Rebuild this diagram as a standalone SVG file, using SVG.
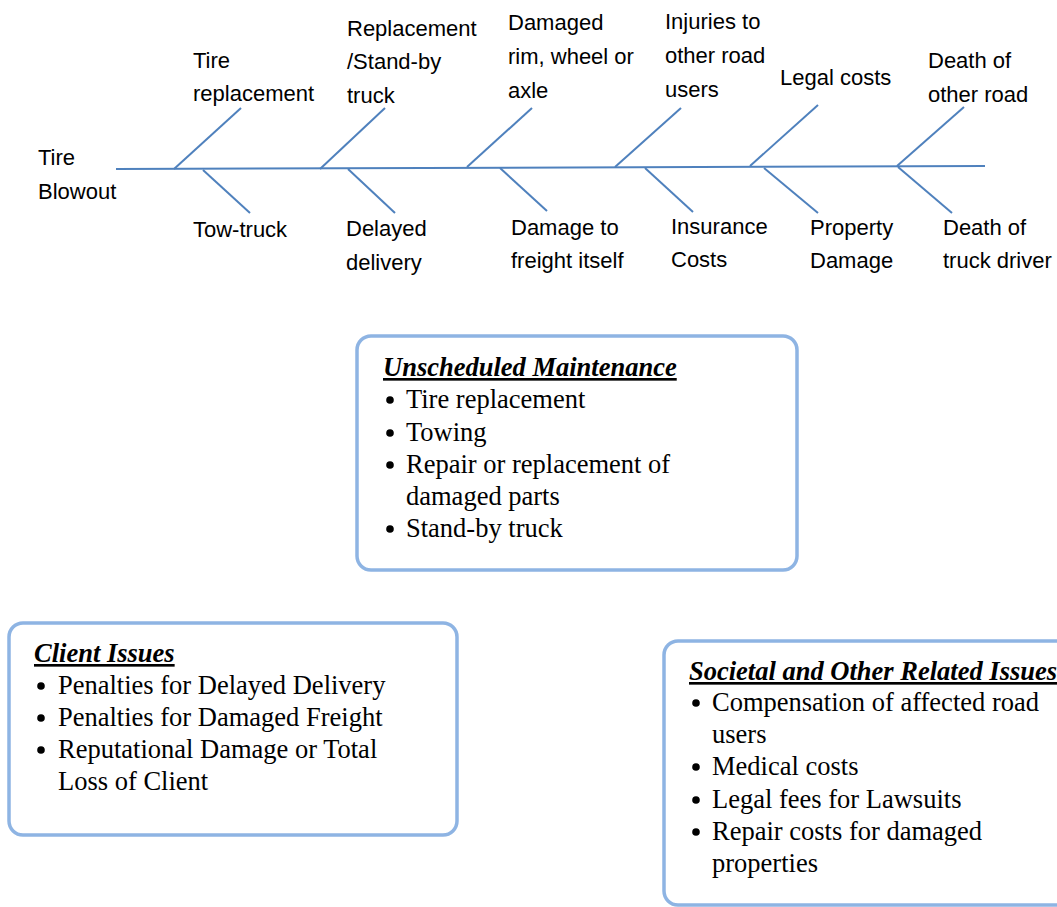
<svg xmlns="http://www.w3.org/2000/svg" width="1057" height="907" viewBox="0 0 1057 907">
<style>
.bone{stroke:#4F81BD;stroke-width:2;fill:none;stroke-linecap:butt}
.lbl{font-family:"Liberation Sans",Arial,sans-serif;font-size:22px;fill:#000}
.box{fill:#fff;stroke:#8EB4E3;stroke-width:3.5}
.bt{font-family:"Liberation Serif","Times New Roman",serif;font-size:26.5px;fill:#000}
.ttl{font-weight:bold;font-style:italic;text-decoration:underline}
.dot{fill:#000}
</style>
<rect width="1057" height="907" fill="#fff"/>
<g id="connectors">
<line class="bone" x1="116" y1="169" x2="985" y2="166"/>
<line class="bone" x1="174" y1="169" x2="241" y2="108"/>
<line class="bone" x1="320" y1="169" x2="385" y2="108"/>
<line class="bone" x1="467" y1="167" x2="532" y2="108"/>
<line class="bone" x1="615" y1="167" x2="681" y2="108"/>
<line class="bone" x1="750" y1="166" x2="818" y2="105"/>
<line class="bone" x1="897" y1="166" x2="964" y2="107"/>
<line class="bone" x1="203" y1="170" x2="250" y2="213"/>
<line class="bone" x1="348" y1="169" x2="395" y2="213"/>
<line class="bone" x1="500" y1="168" x2="547" y2="211"/>
<line class="bone" x1="645" y1="168" x2="693" y2="212"/>
<line class="bone" x1="764" y1="168" x2="818" y2="213"/>
<line class="bone" x1="898" y1="167" x2="952" y2="213"/>
</g>
<g id="head"><text class="lbl" x="38" y="165">Tire</text><text class="lbl" x="38" y="199">Blowout</text></g>
<g id="tire-replacement"><text class="lbl" x="193" y="68">Tire</text><text class="lbl" x="193" y="101">replacement</text></g>
<g id="standby-truck"><text class="lbl" x="347" y="36">Replacement</text><text class="lbl" x="347" y="69">/Stand-by</text><text class="lbl" x="347" y="103">truck</text></g>
<g id="damaged-rim"><text class="lbl" x="508" y="30">Damaged</text><text class="lbl" x="508" y="64">rim, wheel or</text><text class="lbl" x="508" y="98">axle</text></g>
<g id="injuries"><text class="lbl" x="665" y="29">Injuries to</text><text class="lbl" x="665" y="63">other road</text><text class="lbl" x="665" y="97">users</text></g>
<g id="legal-costs"><text class="lbl" x="780" y="85">Legal costs</text></g>
<g id="death-other"><text class="lbl" x="928" y="68">Death of</text><text class="lbl" x="928" y="102">other road</text></g>
<g id="tow-truck"><text class="lbl" x="193" y="237">Tow-truck</text></g>
<g id="delayed-delivery"><text class="lbl" x="346" y="236">Delayed</text><text class="lbl" x="346" y="270">delivery</text></g>
<g id="damage-freight"><text class="lbl" x="511" y="235">Damage to</text><text class="lbl" x="511" y="268">freight itself</text></g>
<g id="insurance"><text class="lbl" x="671" y="234">Insurance</text><text class="lbl" x="671" y="267">Costs</text></g>
<g id="property"><text class="lbl" x="810" y="235">Property</text><text class="lbl" x="810" y="268">Damage</text></g>
<g id="death-driver"><text class="lbl" x="943" y="235">Death of</text><text class="lbl" x="943" y="268">truck driver</text></g>

<g id="unscheduled-maintenance">
<rect class="box" x="357" y="336" width="440" height="234" rx="14"/>
<text class="bt ttl" x="383" y="376">Unscheduled Maintenance</text>
<circle class="dot" cx="390" cy="400" r="3.8"/><text class="bt" x="406" y="408">Tire replacement</text>
<circle class="dot" cx="390" cy="433" r="3.8"/><text class="bt" x="406" y="441">Towing</text>
<circle class="dot" cx="390" cy="465" r="3.8"/><text class="bt" x="406" y="473">Repair or replacement of</text>
<text class="bt" x="406" y="505">damaged parts</text>
<circle class="dot" cx="390" cy="529" r="3.8"/><text class="bt" x="406" y="537">Stand-by truck</text>
</g>

<g id="client-issues">
<rect class="box" x="9" y="623" width="448" height="212" rx="14"/>
<text class="bt ttl" x="34" y="662">Client Issues</text>
<circle class="dot" cx="41" cy="686" r="3.8"/><text class="bt" x="58" y="694">Penalties for Delayed Delivery</text>
<circle class="dot" cx="41" cy="718" r="3.8"/><text class="bt" x="58" y="726">Penalties for Damaged Freight</text>
<circle class="dot" cx="41" cy="750" r="3.8"/><text class="bt" x="58" y="758">Reputational Damage or Total</text>
<text class="bt" x="58" y="790">Loss of Client</text>
</g>

<g id="societal-issues">
<rect class="box" x="664" y="641" width="440" height="264" rx="14"/>
<text class="bt ttl" x="689" y="680">Societal and Other Related Issues</text>
<circle class="dot" cx="696" cy="703" r="3.8"/><text class="bt" x="712" y="711">Compensation of affected road</text>
<text class="bt" x="712" y="743">users</text>
<circle class="dot" cx="696" cy="767" r="3.8"/><text class="bt" x="712" y="775">Medical costs</text>
<circle class="dot" cx="696" cy="800" r="3.8"/><text class="bt" x="712" y="808">Legal fees for Lawsuits</text>
<circle class="dot" cx="696" cy="832" r="3.8"/><text class="bt" x="712" y="840">Repair costs for damaged</text>
<text class="bt" x="712" y="872">properties</text>
</g>
</svg>
